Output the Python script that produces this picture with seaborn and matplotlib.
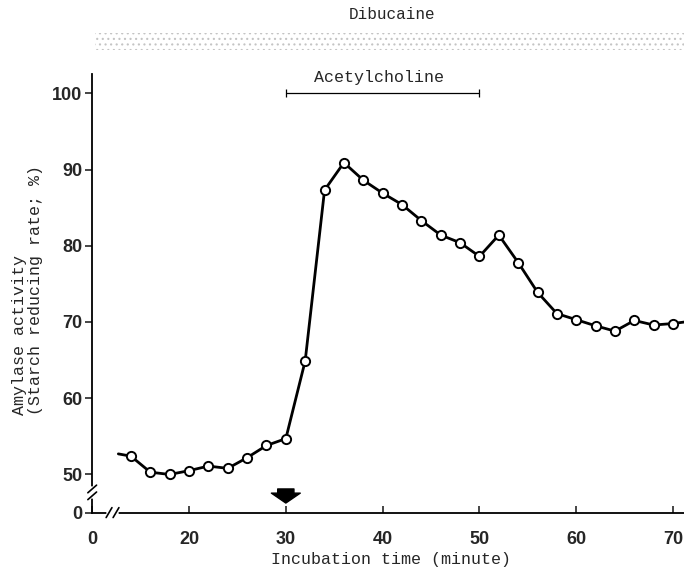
"""
Amylase activity vs incubation time, with dibucaine / acetylcholine periods.
"""

import matplotlib
matplotlib.use("Agg")
import matplotlib.pyplot as plt
import seaborn as sns
import pandas as pd
from matplotlib.patches import Rectangle

# ---------------------------------------------------------------------
# === DATA ============================================================
# ---------------------------------------------------------------------

time_min = [14, 16, 18, 20, 22, 24, 26, 28, 30, 32, 34, 36, 38, 40, 42,
            44, 46, 48, 50, 52, 54, 56, 58, 60, 62, 64, 66, 68, 70]
activity = [52.4, 50.3, 50.0, 50.5, 51.1, 50.8, 52.2, 53.8, 54.7, 64.9,
            87.3, 90.9, 88.6, 86.9, 85.4, 83.3, 81.4, 80.4, 78.6, 81.4,
            77.8, 73.9, 71.1, 70.3, 69.5, 68.8, 70.2, 69.6, 69.8]

# the trace runs a little beyond the first and last circles
lead_in = (12.7, 52.7)
tail_out = (71.2, 70.0)

x_ticks = [10, 20, 30, 40, 50, 60, 70]
x_tick_labels = ["0", "20", "30", "40", "50", "60", "70"]
y_ticks = [45, 50, 60, 70, 80, 90, 100]
y_tick_labels = ["0", "50", "60", "70", "80", "90", "100"]

acetylcholine_period = (30, 50)
dibucaine_period = (10.3, 71.1)
stimulus_time = 30

# ---------------------------------------------------------------------
# === STYLE ===========================================================
# ---------------------------------------------------------------------

sns.set_theme(style="white")
plt.rcParams["font.family"] = ["Liberation Sans", "DejaVu Sans"]
plt.rcParams["hatch.linewidth"] = 0.8
MONO = ["Liberation Mono", "DejaVu Sans Mono"]

df = pd.DataFrame({"time": time_min, "activity": activity})
trace = pd.DataFrame({
    "time": [lead_in[0]] + time_min + [tail_out[0]],
    "activity": [lead_in[1]] + activity + [tail_out[1]],
})

fig = plt.figure(figsize=(6.84, 5.71), dpi=100)
ax = fig.add_axes([0.1348, 0.1023, 0.8662, 0.8879])

sns.lineplot(data=trace, x="time", y="activity", ax=ax, color="black",
             lw=2.0, solid_joinstyle="round", zorder=3)
sns.scatterplot(data=df, x="time", y="activity", ax=ax, s=44,
                facecolor="white", edgecolor="black", linewidth=1.4,
                zorder=4)

ax.set_xlim(10, 71.2)
ax.set_ylim(45, 111.5)

for side in ["top", "right"]:
    ax.spines[side].set_visible(False)
for side in ["left", "bottom"]:
    ax.spines[side].set_linewidth(1.3)
    ax.spines[side].set_color("black")
ax.spines["left"].set_bounds(45, 102.5)

ax.set_xticks(x_ticks)
ax.set_xticklabels(x_tick_labels)
ax.set_yticks(y_ticks)
ax.set_yticklabels(y_tick_labels)
ax.tick_params(axis="x", direction="in", length=5, width=1.2, pad=13,
               labelsize=13, bottom=True)
ax.tick_params(axis="y", direction="out", length=5, width=1.2, pad=2,
               labelsize=13, left=True)
for lab in ax.get_xticklabels() + ax.get_yticklabels():
    lab.set_fontweight("bold")

ax.set_xlabel("Incubation time (minute)", fontsize=12, family=MONO)
ax.xaxis.set_label_coords(0.504, -0.078)
ax.set_ylabel("")
fig.text(0.040, 0.2732, "Amylase activity\n(Starch reducing rate; %)",
         rotation=90, rotation_mode="anchor", ha="left", va="center",
         multialignment="left", fontsize=12, family=MONO, linespacing=1.1)

# ---------------------------------------------------------------------
# === AXIS BREAKS =====================================================
# ---------------------------------------------------------------------

def draw_break(ax, cx, cy, dx, dy, gap, vertical):
    kw = dict(clip_on=False, zorder=6, color="black", lw=1.2)
    if vertical:
        ax.plot([cx, cx], [cy - gap, cy + gap], color="white", lw=4,
                clip_on=False, zorder=5)
        for c in (cy - gap, cy + gap):
            ax.plot([cx - dx, cx + dx], [c - dy, c + dy], **kw)
    else:
        ax.plot([cx - gap, cx + gap], [cy, cy], color="white", lw=4,
                clip_on=False, zorder=5)
        for c in (cx - gap, cx + gap):
            ax.plot([c - dx, c + dx], [cy - dy, cy + dy], **kw)

draw_break(ax, 10, 47.65, 0.45, 0.5, 0.45, vertical=True)
draw_break(ax, 12.1, 45, 0.3, 0.65, 0.36, vertical=False)

# ---------------------------------------------------------------------
# === ANNOTATIONS =====================================================
# ---------------------------------------------------------------------

# stimulus arrow
ax.annotate("", xy=(stimulus_time, 46.25), xytext=(stimulus_time, 48.1),
            arrowprops=dict(arrowstyle="simple,head_length=0.55,head_width=1.6,tail_width=0.9",
                            fc="black", ec="black", shrinkA=0, shrinkB=0,
                            mutation_scale=13),
            annotation_clip=False)

# acetylcholine bar
a0, a1 = acetylcholine_period
ax.plot([a0, a1], [100.0, 100.0], color="black", lw=0.9, marker="|",
        markersize=6, markeredgewidth=0.9, clip_on=False)
ax.text(39.6, 102.1, "Acetylcholine", ha="center", va="center",
        fontsize=12, family=MONO)

# dibucaine band (stippled)
d0, d1 = dibucaine_period
ax.add_patch(Rectangle((d0, 105.7), d1 - d0, 2.2, facecolor="white",
                       edgecolor="#c4c4c4", hatch="...", lw=0,
                       clip_on=False, zorder=1))
ax.text(41.0, 110.3, "Dibucaine", ha="center", va="center",
        fontsize=11.5, family=MONO)

fig.savefig("out.png", dpi=100)
